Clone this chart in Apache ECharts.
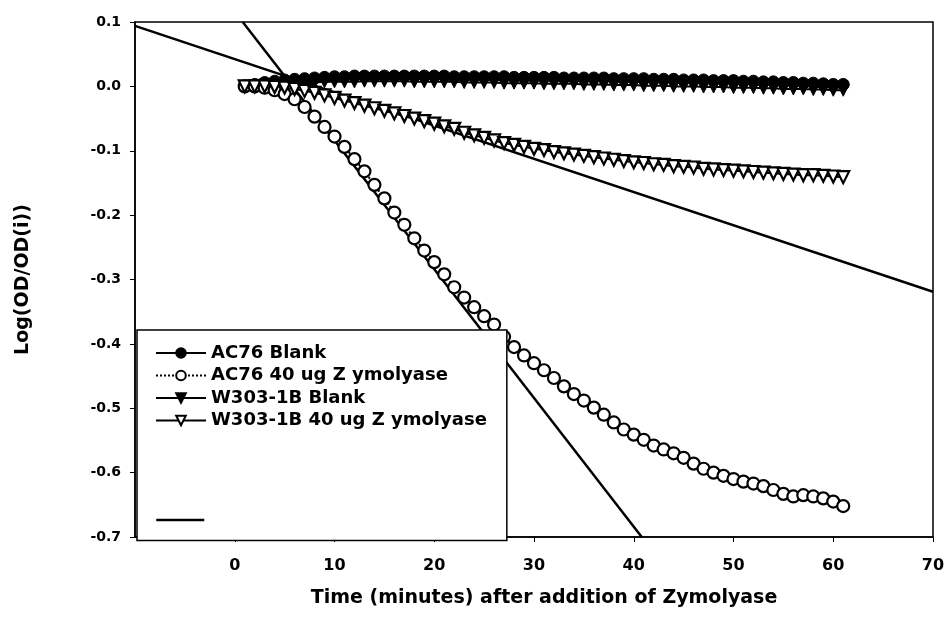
<!DOCTYPE html>
<html>
<head>
<meta charset="utf-8">
<title>Log(OD/OD(i)) vs time</title>
<script src="https://cdn.jsdelivr.net/npm/echarts@6/dist/echarts.min.js"></script>
<style>
  html, body { margin: 0; padding: 0; background: #fff; }
  #chart { width: 950px; height: 626px; }
</style>
</head>
<body>
<div id="chart"></div>
<script>
// minutes after adding Zymolyase (one reading per minute)
const minutes = [1, 2, 3, 4, 5, 6, 7, 8, 9, 10, 11, 12, 13, 14, 15, 16, 17, 18, 19, 20,
  21, 22, 23, 24, 25, 26, 27, 28, 29, 30, 31, 32, 33, 34, 35, 36, 37, 38, 39, 40,
  41, 42, 43, 44, 45, 46, 47, 48, 49, 50, 51, 52, 53, 54, 55, 56, 57, 58, 59, 60, 61];

const ac76Blank = [0.000, 0.003, 0.006, 0.008, 0.010, 0.011, 0.012, 0.013, 0.014, 0.015,
  0.015, 0.016, 0.016, 0.016, 0.016, 0.016, 0.016, 0.016, 0.016, 0.016,
  0.016, 0.015, 0.015, 0.015, 0.015, 0.015, 0.015, 0.014, 0.014, 0.014,
  0.014, 0.014, 0.013, 0.013, 0.013, 0.013, 0.013, 0.012, 0.012, 0.012,
  0.012, 0.011, 0.011, 0.011, 0.010, 0.010, 0.010, 0.009, 0.009, 0.009,
  0.008, 0.008, 0.007, 0.007, 0.006, 0.006, 0.005, 0.005, 0.004, 0.003, 0.003];

const ac76Zymo = [0.000, 0.000, -0.002, -0.006, -0.012, -0.020, -0.032, -0.047, -0.063, -0.078,
  -0.094, -0.113, -0.132, -0.153, -0.174, -0.196, -0.215, -0.236, -0.255, -0.273,
  -0.292, -0.312, -0.328, -0.343, -0.357, -0.370, -0.389, -0.405, -0.418, -0.430,
  -0.441, -0.453, -0.466, -0.478, -0.488, -0.499, -0.510, -0.522, -0.533, -0.541,
  -0.549, -0.558, -0.564, -0.570, -0.577, -0.586, -0.594, -0.600, -0.605, -0.610,
  -0.614, -0.617, -0.621, -0.627, -0.633, -0.637, -0.635, -0.637, -0.640, -0.645, -0.652];

const w303Blank = [0.000, 0.001, 0.002, 0.003, 0.004, 0.005, 0.006, 0.006, 0.007, 0.007,
  0.007, 0.007, 0.008, 0.008, 0.008, 0.008, 0.008, 0.007, 0.007, 0.007,
  0.007, 0.007, 0.006, 0.006, 0.006, 0.006, 0.005, 0.005, 0.005, 0.005,
  0.004, 0.004, 0.004, 0.004, 0.003, 0.003, 0.003, 0.002, 0.002, 0.002,
  0.001, 0.001, 0.001, 0.000, 0.000, 0.000, -0.001, -0.001, -0.001, -0.002,
  -0.002, -0.002, -0.003, -0.003, -0.004, -0.004, -0.004, -0.005, -0.005, -0.006, -0.006];

const w303Zymo = [0.000, 0.000, 0.000, -0.001, -0.002, -0.004, -0.007, -0.010, -0.014, -0.018,
  -0.022, -0.026, -0.030, -0.034, -0.038, -0.042, -0.046, -0.050, -0.054, -0.058,
  -0.062, -0.066, -0.072, -0.076, -0.080, -0.084, -0.088, -0.091, -0.094, -0.097,
  -0.099, -0.102, -0.104, -0.106, -0.108, -0.110, -0.112, -0.114, -0.116, -0.118,
  -0.119, -0.121, -0.122, -0.124, -0.125, -0.126, -0.128, -0.129, -0.130, -0.131,
  -0.132, -0.133, -0.134, -0.135, -0.136, -0.137, -0.138, -0.138, -0.139, -0.140, -0.141];

// the two straight fit lines (end points)
const fitShallowX = [-10, 70];
const fitShallowY = [0.094, -0.319];
const fitSteepX = [0.8, 40.8];
const fitSteepY = [0.1, -0.7];

const FONT = 'DejaVu Sans';

function pairs(xs, ys) {
  return xs.map((x, i) => [x, ys[i]]);
}

const chart = echarts.init(document.getElementById('chart'));

const option = {
  backgroundColor: '#fff',
  animation: false,
  grid: {
    left: 135, right: 17, top: 22, bottom: 89,
    show: true, borderColor: '#000', borderWidth: 1.5
  },
  xAxis: {
    type: 'value',
    min: -10, max: 70, interval: 10,
    name: 'Time (minutes) after addition of Zymolyase',
    nameLocation: 'middle',
    nameGap: 52,
    nameTextStyle: { fontFamily: FONT, fontWeight: 'bold', fontSize: 19, color: '#000', padding: [0, 0, 0, 20] },
    axisLine: { onZero: false, lineStyle: { color: '#000', width: 1.5 } },
    axisTick: { show: true, length: 5, lineStyle: { color: '#000' } },
    axisLabel: {
      showMinLabel: false,
      margin: 21,
      fontFamily: FONT, fontWeight: 'bold', fontSize: 16, color: '#000'
    },
    splitLine: { show: false }
  },
  yAxis: {
    type: 'value',
    min: -0.7, max: 0.1, interval: 0.1,
    name: 'Log(OD/OD(i))',
    nameLocation: 'middle',
    nameGap: 102,
    nameTextStyle: { fontFamily: FONT, fontWeight: 'bold', fontSize: 19, color: '#000' },
    axisLine: { onZero: false, lineStyle: { color: '#000', width: 1.5 } },
    axisTick: { show: true, length: 5, lineStyle: { color: '#000' } },
    axisLabel: {
      margin: 14,
      formatter: v => v.toFixed(1),
      fontFamily: FONT, fontWeight: 'bold', fontSize: 14, color: '#000'
    },
    splitLine: { show: false }
  },
  legend: [
    {
      // main legend box, padded out to the full frame
      data: ['AC76 Blank', 'AC76 40 ug Z ymolyase', 'W303-1B Blank', 'W303-1B 40 ug Z ymolyase'],
      orient: 'vertical',
      left: 137, top: 330,
      padding: [14, 20, 111, 18],
      itemWidth: 50, itemHeight: 12, itemGap: 4.5,
      backgroundColor: '#fff',
      borderColor: '#000', borderWidth: 1.5,
      textStyle: { fontFamily: FONT, fontWeight: 'bold', fontSize: 18, lineHeight: 18, color: '#000' },
      selectedMode: false
    },
    {
      // bottom entry: just the fit line, no marker
      data: [' '],
      orient: 'vertical',
      left: 155, top: 511,
      padding: 0,
      itemWidth: 48, itemHeight: 12,
      itemStyle: { opacity: 0 },
      lineStyle: { color: '#000', width: 2.5, opacity: 1 },
      textStyle: { fontFamily: FONT, fontSize: 18, color: '#000' },
      selectedMode: false
    }
  ],
  series: [
    {
      name: 'AC76 Blank',
      type: 'line',
      data: pairs(minutes, ac76Blank),
      symbol: 'circle', symbolSize: 12,
      itemStyle: { color: '#000', borderColor: '#000', borderWidth: 1 },
      lineStyle: { color: '#000', width: 2 }
    },
    {
      name: 'AC76 40 ug Z ymolyase',
      type: 'line',
      data: pairs(minutes, ac76Zymo),
      symbol: 'circle', symbolSize: 12,
      itemStyle: { color: '#fff', borderColor: '#000', borderWidth: 2.2 },
      lineStyle: { color: '#000', width: 2, type: 'dotted' }
    },
    {
      name: 'W303-1B Blank',
      type: 'line',
      data: pairs(minutes, w303Blank),
      symbol: 'triangle', symbolRotate: 180, symbolSize: 12,
      itemStyle: { color: '#000', borderColor: '#000', borderWidth: 1 },
      lineStyle: { color: '#000', width: 2 }
    },
    {
      name: 'W303-1B 40 ug Z ymolyase',
      type: 'line',
      data: pairs(minutes, w303Zymo),
      symbol: 'triangle', symbolRotate: 180, symbolSize: 12,
      itemStyle: { color: '#fff', borderColor: '#000', borderWidth: 2.2 },
      lineStyle: { color: '#000', width: 2 }
    },
    {
      name: ' ',
      type: 'line',
      data: pairs(fitShallowX, fitShallowY),
      symbol: 'none',
      itemStyle: { color: '#000' },
      lineStyle: { color: '#000', width: 2.5 },
      z: 3
    },
    {
      name: ' ',
      type: 'line',
      data: pairs(fitSteepX, fitSteepY),
      symbol: 'none',
      itemStyle: { color: '#000' },
      lineStyle: { color: '#000', width: 2.5 },
      z: 3
    }
  ]
};

chart.setOption(option);
</script>
</body>
</html>
